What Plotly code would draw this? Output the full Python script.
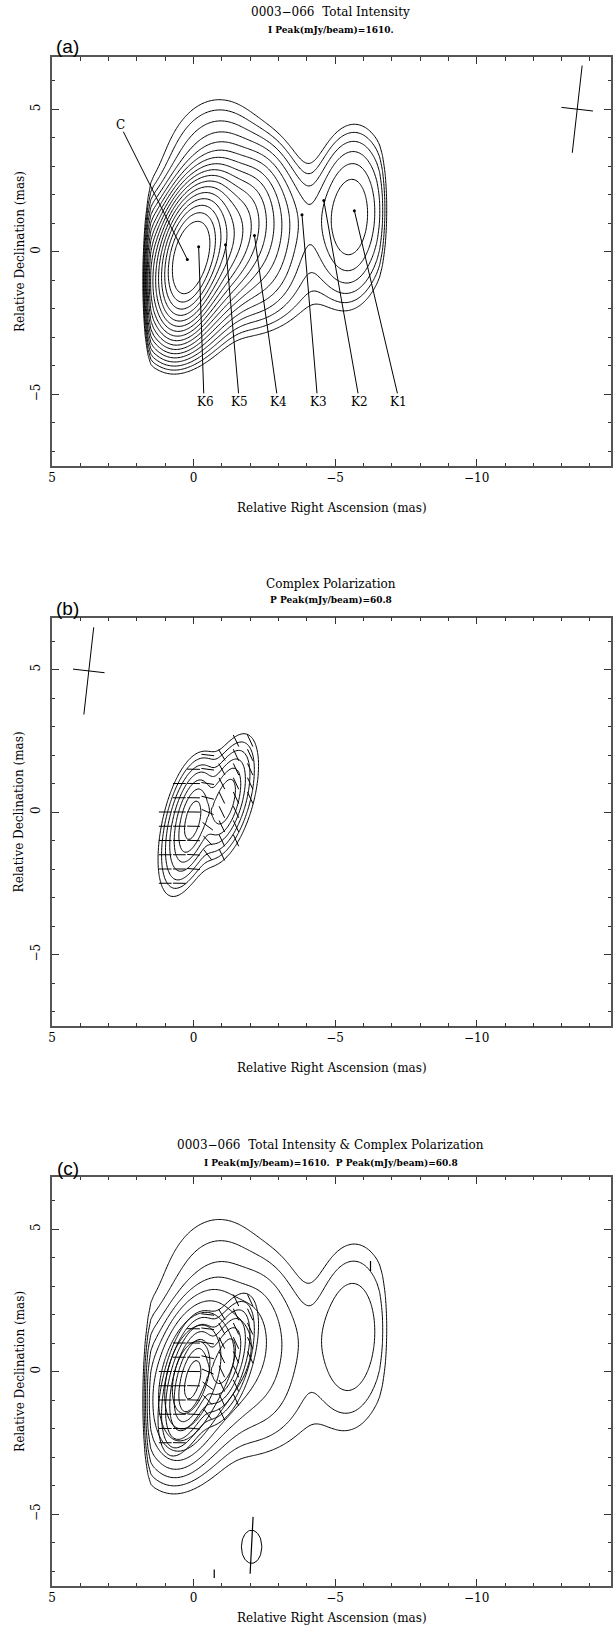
import numpy as np
import plotly.graph_objects as go

# ---------------- data ----------------
# Stokes I model components (mas, mJy/beam, gaussian sigmas in mas, PA deg)
i_name = ["C", "K6", "K5", "K4", "K3", "K1e", "K1w", "halo", "east", "south"]
i_x    = [0.22, -0.18, -1.13, -2.30, -3.70, -5.25, -5.85, -0.90, 0.60, -3.00]
i_y    = [-0.30, 0.17, 0.25, 0.50, 1.20, 1.25, 1.20, 2.10, -0.90, -0.85]
i_amp  = [1100., 520., 150., 28., 4., 14., 14., 16., 70., 6.]
i_smaj = [1.05, 1.15, 1.25, 1.50, 1.00, 1.60, 1.60, 1.80, 1.30, 1.25]
i_smin = [0.46, 0.50, 0.60, 0.75, 0.80, 0.65, 0.65, 1.15, 0.90, 1.00]
i_pa   = [-10., -15., -20., -10., -20., -3., -3., 0., 0., 0.]
i_east_cut = 1.45          # sharp eastern edge of the map (mas)
i_west_cut = -6.50         # sharp western edge of the map (mas)
i_levels = [3.2, 4.5, 6.4, 9.1, 12.8, 18.1, 25.6, 36.2, 51.2, 72.4,
            102.4, 144.8, 204.8, 289.6, 409.6, 579.2, 819.2, 1158.5]

# knot markers and their labels
knot_name = ["C", "K6", "K5", "K4", "K3", "K2", "K1"]
knot_x    = [0.22, -0.18, -1.13, -2.15, -3.83, -4.60, -5.68]
knot_y    = [-0.27, 0.17, 0.24, 0.57, 1.30, 1.80, 1.44]
label_x   = [2.58, -0.41, -1.64, -2.99, -4.41, -5.86, -7.25]
label_y   = [4.46, -5.29, -5.29, -5.29, -5.29, -5.29, -5.29]

# polarized intensity model components
p_x    = [0.00, 0.30, -1.10, -1.30]
p_y    = [-0.25, -0.50, 0.35, 0.50]
p_amp  = [40., 25., 30., 20.]
p_smaj = [0.90, 1.50, 0.85, 1.50]
p_smin = [0.30, 0.50, 0.30, 0.55]
p_pa   = [-12., -12., -15., -15.]
p_evpa = [90., 90., 25., 25.]   # electric vector position angle (deg, N through E)
p_levels = [6.5, 9.2, 13.0, 18.4, 26.0, 36.8, 52.0]
p_vec_cut = 7.0
p_vec_step = 0.5
p_vec_len = 0.45

# isolated polarization spots seen only in panel (c)
spot_x = [-6.25, -0.73, -2.05]
spot_y = [3.70, -7.10, -6.10]
spot_evpa = [0., 0., -3.]
spot_len = [0.35, 0.30, 2.00]
ell_x, ell_y, ell_a, ell_b = -2.05, -6.15, 0.36, 0.58

# restoring beam (FWHM mas, PA deg)
beam_maj, beam_min, beam_pa = 3.08, 1.12, -6.5
beam_pos = {"a": (-13.55, 5.0), "b": (3.70, 4.95)}

titles = ["0003\u2212066  Total Intensity", "Complex Polarization",
          "0003\u2212066  Total Intensity & Complex Polarization"]
subtitles = ["I Peak(mJy/beam)=1610.", "P Peak(mJy/beam)=60.8",
             "I Peak(mJy/beam)=1610.  P Peak(mJy/beam)=60.8"]
panel_tags = ["(a)", "(b)", "(c)"]

# ---------------- geometry ----------------
W, H = 613, 1626
PX = 28.5                      # pixels per mas
XR = [5.0, -14.75]
YR = [-7.52, 6.82]
X_LEFT = 48.3
Y0_PIX = [251.7, 812.0, 1371.5]   # pixel row of Dec = 0 in each panel
TITLE_PIX = [12.5, 584.0, 1145.0]
SUB_PIX = [30.0, 600.0, 1162.5]
TAG_PIX = [46.5, 608.0, 1168.0]
XTITLE_PIX = [508.0, 1068.0, 1618.0]

SERIF = "DejaVu Serif"

xg = np.linspace(-14.75, 5.0, 199)
yg = np.linspace(-7.52, 6.82, 145)
XX, YY = np.meshgrid(xg, yg)


def gauss_sum(xs, ys, amps, smaj, smin, pa, X=XX, Y=YY):
    F = np.zeros_like(X, dtype=float)
    for x0, y0, a, sM, sm, p in zip(xs, ys, amps, smaj, smin, pa):
        t = np.deg2rad(p)
        dx, dy = X - x0, Y - y0
        u = dx * np.sin(t) + dy * np.cos(t)
        v = dx * np.cos(t) - dy * np.sin(t)
        F = F + a * np.exp(-0.5 * ((u / sM) ** 2 + (v / sm) ** 2))
    return F


I = gauss_sum(i_x, i_y, i_amp, i_smaj, i_smin, i_pa)
I = I * np.where(XX > i_east_cut, np.exp(-((XX - i_east_cut) / 0.22) ** 2), 1.0)
I = I * np.where(XX < i_west_cut, np.exp(-((XX - i_west_cut) / 0.45) ** 2), 1.0)
P = gauss_sum(p_x, p_y, p_amp, p_smaj, p_smin, p_pa)

zI = np.round(np.log2(np.maximum(I, 1e-3)), 3)
zP = np.round(np.log2(np.maximum(P, 1e-3)), 3)


def contour(z, levels, step, xa, ya):
    lo = np.log2(levels[0])
    hi = np.log2(levels[-1])
    return go.Contour(x=xg, y=yg, z=z, xaxis=xa, yaxis=ya,
                      contours=dict(coloring="none", start=lo, end=hi + 1e-6, size=step),
                      line=dict(color="black", width=1, smoothing=0.7),
                      showscale=False, hoverinfo="skip")


def evpa_vectors(xa, ya):
    gx = np.arange(-4.0, 2.51, p_vec_step)
    gy = np.arange(-4.0, 4.01, p_vec_step)
    GX, GY = np.meshgrid(gx, gy)
    pv = gauss_sum(p_x, p_y, p_amp, p_smaj, p_smin, p_pa, GX, GY)
    s2 = np.zeros_like(GX)
    c2 = np.zeros_like(GX)
    for x0, y0, a, sM, sm, p, ev in zip(p_x, p_y, p_amp, p_smaj, p_smin, p_pa, p_evpa):
        w = gauss_sum([x0], [y0], [a], [sM], [sm], [p], GX, GY)
        s2 += w * np.sin(2 * np.deg2rad(ev))
        c2 += w * np.cos(2 * np.deg2rad(ev))
    ang = 0.5 * np.arctan2(s2, c2)
    xs, ys = [], []
    for i in range(GX.shape[0]):
        for j in range(GX.shape[1]):
            if pv[i, j] > p_vec_cut:
                dx = 0.5 * p_vec_len * np.sin(ang[i, j])
                dy = 0.5 * p_vec_len * np.cos(ang[i, j])
                xs += [GX[i, j] - dx, GX[i, j] + dx, None]
                ys += [GY[i, j] - dy, GY[i, j] + dy, None]
    return go.Scatter(x=xs, y=ys, mode="lines", xaxis=xa, yaxis=ya,
                      line=dict(color="black", width=1), hoverinfo="skip")


def beam_cross(cx, cy, xa, ya):
    t = np.deg2rad(beam_pa)
    mx, my = 0.5 * beam_maj * np.sin(t), 0.5 * beam_maj * np.cos(t)
    nx, ny = 0.5 * beam_min * np.cos(t), -0.5 * beam_min * np.sin(t)
    return go.Scatter(x=[cx - mx, cx + mx, None, cx - nx, cx + nx],
                      y=[cy - my, cy + my, None, cy - ny, cy + ny],
                      mode="lines", xaxis=xa, yaxis=ya,
                      line=dict(color="black", width=1), hoverinfo="skip")


fig = go.Figure()
ax = ["x", "x2", "x3"]
ay = ["y", "y2", "y3"]

# panel (a)
fig.add_trace(contour(zI, i_levels, 0.5, ax[0], ay[0]))
fig.add_trace(go.Scatter(x=knot_x, y=knot_y, mode="markers", xaxis=ax[0], yaxis=ay[0],
                         marker=dict(color="black", size=3), hoverinfo="skip"))
lx, ly = [], []
for k, (kx, ky, tx, ty) in enumerate(zip(knot_x, knot_y, label_x, label_y)):
    if k == 0:
        lx += [tx - 0.1, kx, None]
        ly += [ty - 0.25, ky, None]
    else:
        lx += [tx + 0.05, kx, None]
        ly += [ty + 0.32, ky, None]
fig.add_trace(go.Scatter(x=lx, y=ly, mode="lines", xaxis=ax[0], yaxis=ay[0],
                         line=dict(color="black", width=1), hoverinfo="skip"))
fig.add_trace(beam_cross(*beam_pos["a"], ax[0], ay[0]))

# panel (b)
fig.add_trace(contour(zP, p_levels, 0.5, ax[1], ay[1]))
fig.add_trace(evpa_vectors(ax[1], ay[1]))
fig.add_trace(beam_cross(*beam_pos["b"], ax[1], ay[1]))

# panel (c)
fig.add_trace(contour(zI, i_levels, 1.0, ax[2], ay[2]))
fig.add_trace(contour(zP, p_levels, 0.5, ax[2], ay[2]))
fig.add_trace(evpa_vectors(ax[2], ay[2]))
sx, sy = [], []
for x0, y0, ev, ln in zip(spot_x, spot_y, spot_evpa, spot_len):
    t = np.deg2rad(ev)
    sx += [x0 - 0.5 * ln * np.sin(t), x0 + 0.5 * ln * np.sin(t), None]
    sy += [y0 - 0.5 * ln * np.cos(t), y0 + 0.5 * ln * np.cos(t), None]
fig.add_trace(go.Scatter(x=sx, y=sy, mode="lines", xaxis=ax[2], yaxis=ay[2],
                         line=dict(color="black", width=1.2), hoverinfo="skip"))
tt = np.linspace(0, 2 * np.pi, 60)
fig.add_trace(go.Scatter(x=ell_x + ell_a * np.cos(tt), y=ell_y + ell_b * np.sin(tt),
                         mode="lines", xaxis=ax[2], yaxis=ay[2],
                         line=dict(color="black", width=1), hoverinfo="skip"))

axis_common = dict(showline=True, linecolor="#555", linewidth=1.5, mirror="allticks",
                   ticks="inside", ticklen=7, tickwidth=1, tickcolor="#333",
                   showgrid=False, zeroline=False,
                   tickfont=dict(family=SERIF, size=12, color="black"),
                   minor=dict(ticks="inside", ticklen=3.5, dtick=1, tick0=0,
                              tickcolor="#333", tickwidth=1, showgrid=False))

annotations = []
for p in range(3):
    y0 = Y0_PIX[p]
    top = y0 - YR[1] * PX
    bot = y0 - YR[0] * PX
    xdom = [X_LEFT / W, (X_LEFT + (XR[0] - XR[1]) * PX) / W]
    ydom = [1 - bot / H, 1 - top / H]
    sfx = "" if p == 0 else str(p + 1)
    fig.update_layout(**{
        "xaxis" + sfx: dict(axis_common, domain=xdom, range=XR, tickvals=[5, 0, -5, -10],
                            anchor="y" + sfx),
        "yaxis" + sfx: dict(axis_common, domain=ydom, range=YR, tickvals=[-5, 0, 5],
                            tickangle=-90, anchor="x" + sfx, ticklabelstandoff=5),
    })
    annotations += [
        dict(text=titles[p], x=329 / W, y=1 - TITLE_PIX[p] / H, xref="paper", yref="paper",
             showarrow=False, font=dict(family=SERIF, size=12, color="black"),
             xanchor="center", yanchor="middle"),
        dict(text="<b>" + subtitles[p] + "</b>", x=329 / W, y=1 - SUB_PIX[p] / H,
             xref="paper", yref="paper", showarrow=False,
             font=dict(family=SERIF, size=9, color="black"), xanchor="center", yanchor="middle"),
        dict(text=panel_tags[p], x=64 / W, y=1 - TAG_PIX[p] / H, xref="paper", yref="paper",
             showarrow=False, font=dict(family="Liberation Sans", size=19, color="black"),
             xanchor="center", yanchor="middle"),
        dict(text="Relative Right Ascension (mas)", x=330 / W, y=1 - XTITLE_PIX[p] / H,
             xref="paper", yref="paper", showarrow=False,
             font=dict(family=SERIF, size=12, color="black"), xanchor="center", yanchor="middle"),
        dict(text="Relative Declination (mas)", x=15.5 / W, y=1 - y0 / H, textangle=-90,
             xref="paper", yref="paper", showarrow=False,
             font=dict(family=SERIF, size=12, color="black"), xanchor="center", yanchor="middle"),
    ]

for name, tx, ty in zip(knot_name, label_x, label_y):
    annotations.append(dict(text=name, x=tx, y=ty, xref="x", yref="y", showarrow=False,
                            font=dict(family=SERIF, size=12, color="black"),
                            xanchor="center", yanchor="middle"))

fig.update_layout(width=W, height=H, margin=dict(l=0, r=0, t=0, b=0),
                  paper_bgcolor="white", plot_bgcolor="white", showlegend=False,
                  annotations=annotations)

fig.write_html("out.html")
